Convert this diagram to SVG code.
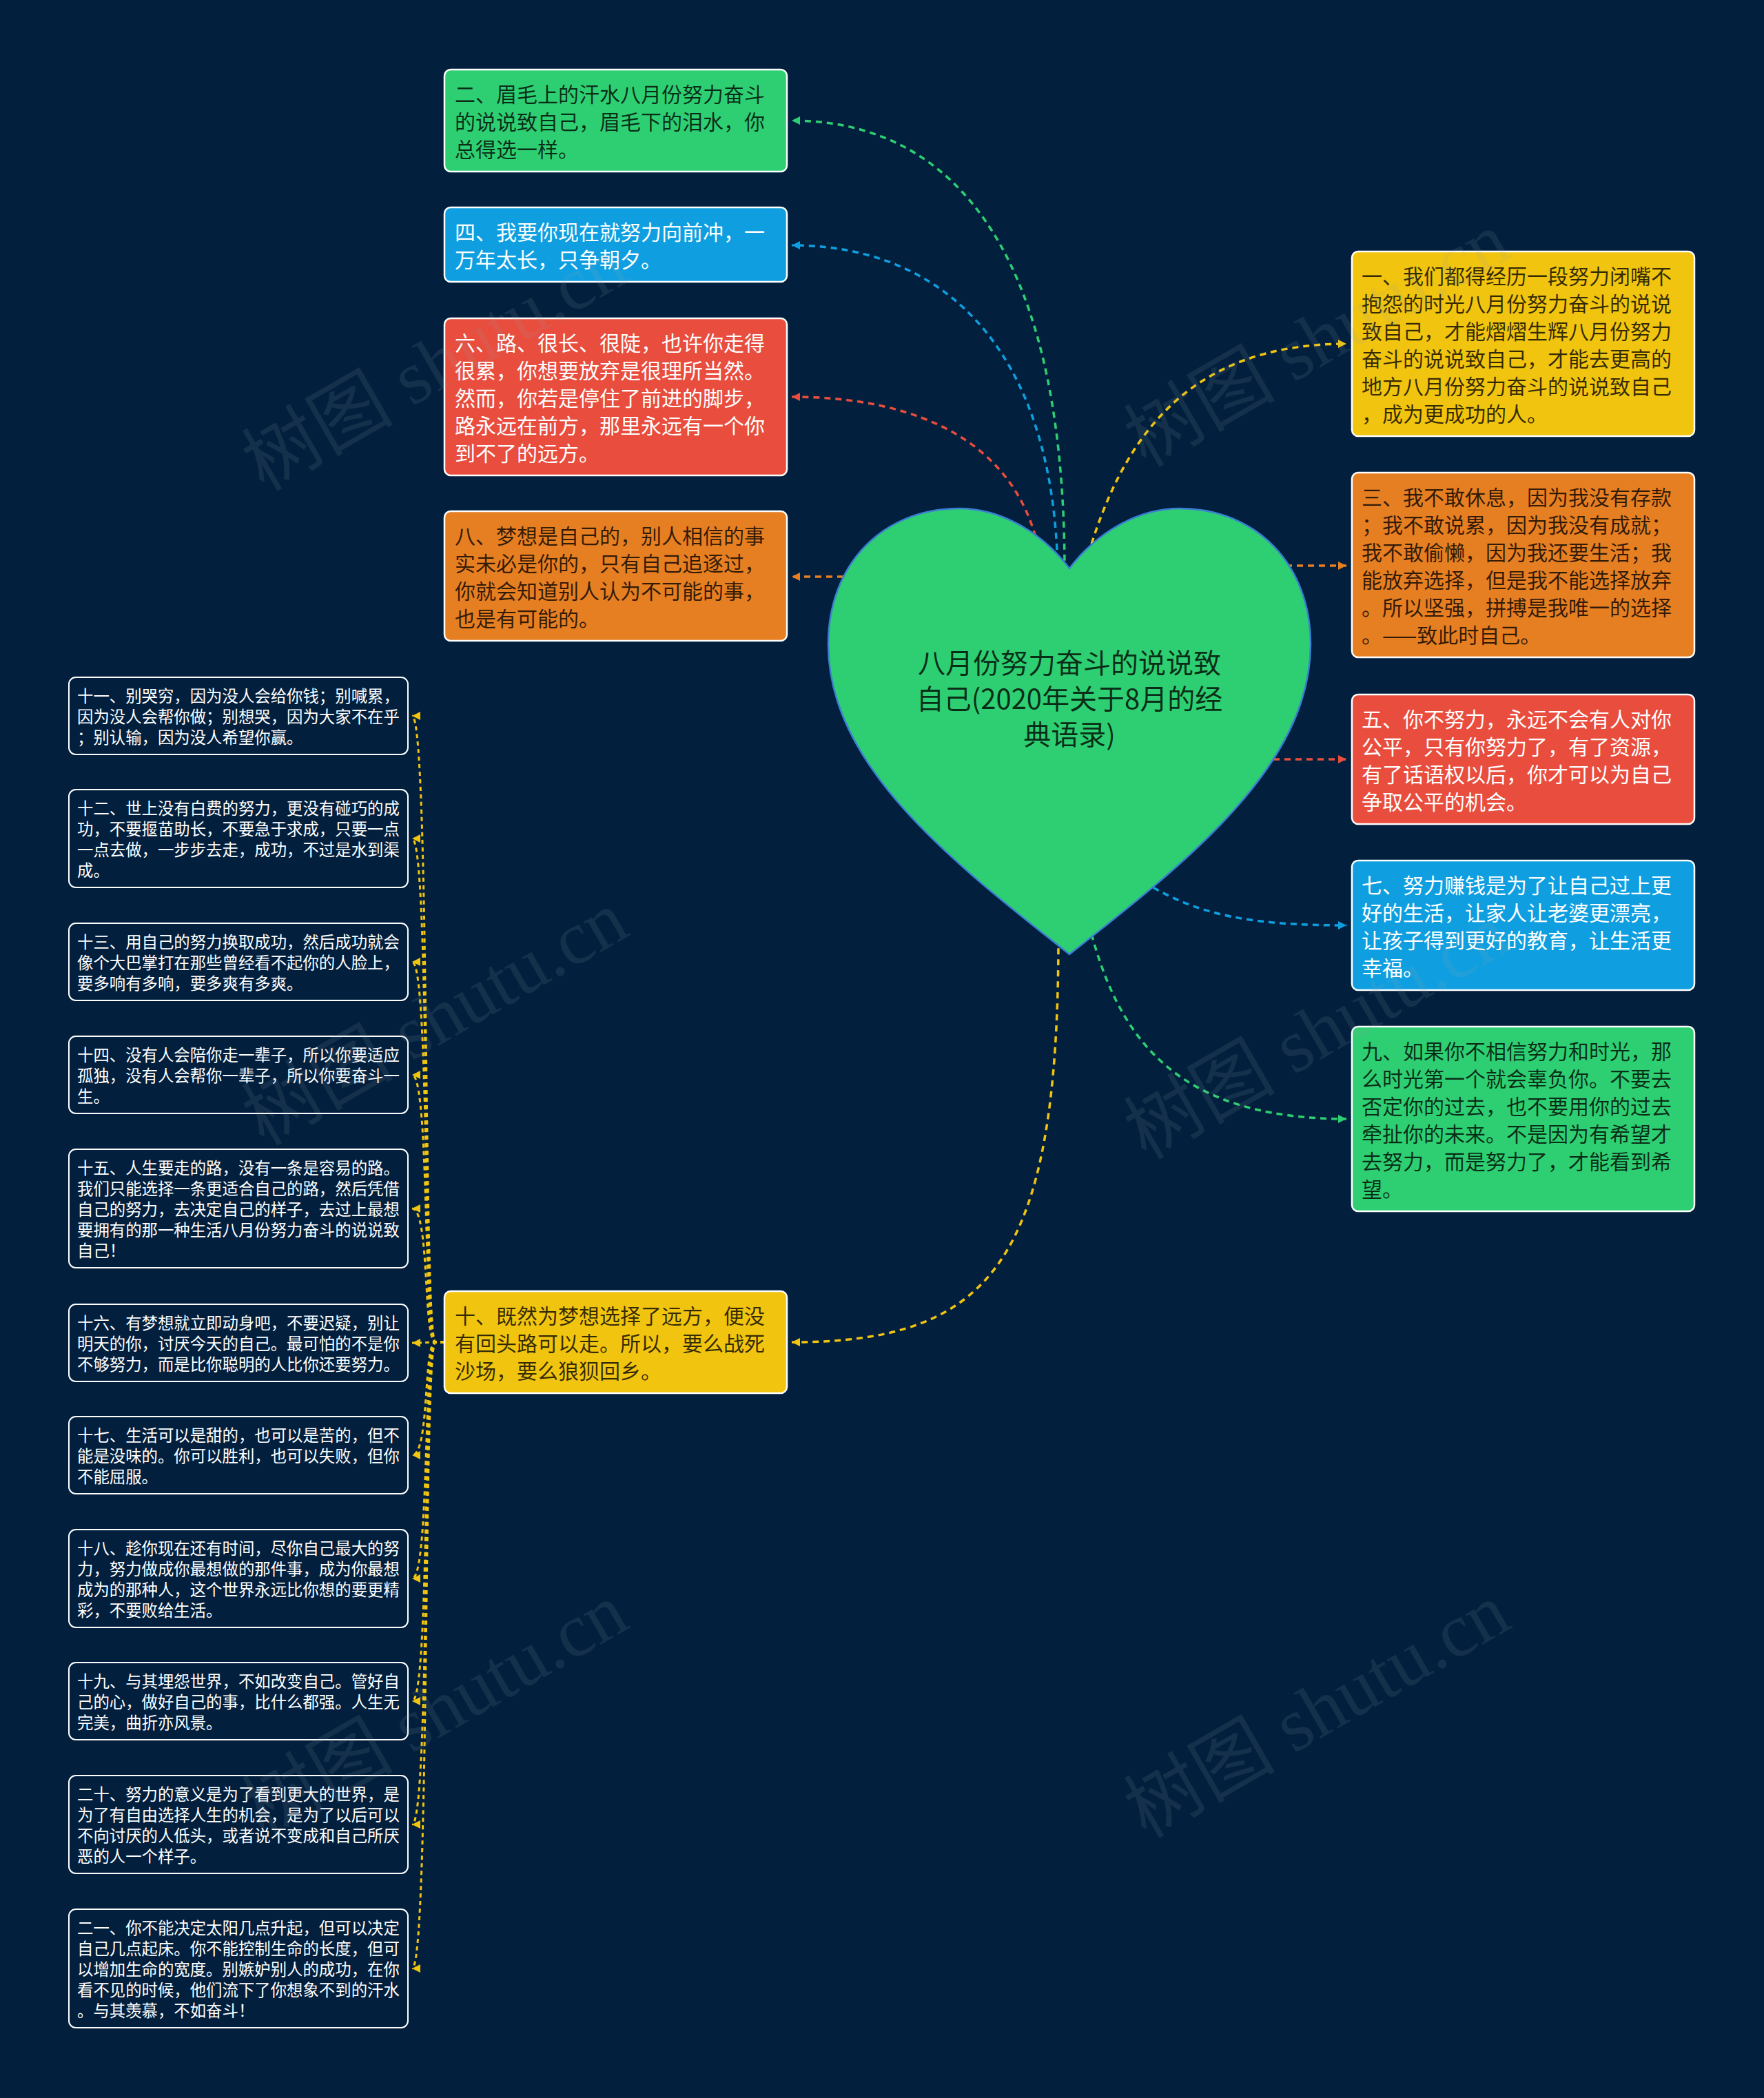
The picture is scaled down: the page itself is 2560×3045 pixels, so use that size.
<svg xmlns="http://www.w3.org/2000/svg" width="2560" height="3045" viewBox="0 0 2560 3045">
<style>
.bg{fill:#02203e}
.box{stroke:#ffffff;stroke-width:2.5}
.sbox{fill:#02203e;stroke:#ffffff;stroke-width:2}
.t{font-family:"Noto Sans CJK SC","Noto Sans",sans-serif;font-size:30px;dominant-baseline:central}
.st{font-family:"Noto Sans CJK SC","Noto Sans",sans-serif;font-size:23.4px;fill:#ffffff;dominant-baseline:central}
.dk{fill:#000000;fill-opacity:0.78}
.wt{fill:#ffffff}
.c{fill:none;stroke-width:3.5;stroke-dasharray:9 7}
.cs{fill:none;stroke:#f1c40f;stroke-width:3;stroke-dasharray:6 5}
.wm{font-family:"Liberation Serif","Noto Sans CJK SC",serif;font-size:110px;fill:#a0a8b0;fill-opacity:0.12}
</style>
<defs>
<marker id="aG" viewBox="0 0 12 12" refX="12" refY="6" markerWidth="13" markerHeight="12" markerUnits="userSpaceOnUse" orient="auto"><path d="M0,0 L12,6 L0,12 z" fill="#2ecf72"/></marker>
<marker id="aB" viewBox="0 0 12 12" refX="12" refY="6" markerWidth="13" markerHeight="12" markerUnits="userSpaceOnUse" orient="auto"><path d="M0,0 L12,6 L0,12 z" fill="#0f9fe0"/></marker>
<marker id="aR" viewBox="0 0 12 12" refX="12" refY="6" markerWidth="13" markerHeight="12" markerUnits="userSpaceOnUse" orient="auto"><path d="M0,0 L12,6 L0,12 z" fill="#e84d3d"/></marker>
<marker id="aO" viewBox="0 0 12 12" refX="12" refY="6" markerWidth="13" markerHeight="12" markerUnits="userSpaceOnUse" orient="auto"><path d="M0,0 L12,6 L0,12 z" fill="#e67e22"/></marker>
<marker id="aY" viewBox="0 0 12 12" refX="12" refY="6" markerWidth="13" markerHeight="12" markerUnits="userSpaceOnUse" orient="auto"><path d="M0,0 L12,6 L0,12 z" fill="#f1c40f"/></marker>
</defs>
<rect class="bg" x="0" y="0" width="2560" height="3045"/>

<g id="connectors">
<path class="c" stroke="#2ecf72" marker-end="url(#aG)" d="M1545,830 C1545,330 1360,175 1149,175"/>
<path class="c" stroke="#0f9fe0" marker-end="url(#aB)" d="M1535,830 C1530,520 1380,356 1149,356"/>
<path class="c" stroke="#e84d3d" marker-end="url(#aR)" d="M1510,810 C1480,640 1330,576 1149,576"/>
<path class="c" stroke="#e67e22" marker-end="url(#aO)" d="M1240,837 L1149,837"/>
<path class="c" stroke="#f1c40f" marker-end="url(#aY)" d="M1536,1360 C1536,1830 1440,1948 1149,1948"/>
<path class="c" stroke="#f1c40f" marker-end="url(#aY)" d="M1575,820 C1625,640 1720,499 1954,499"/>
<path class="c" stroke="#e67e22" marker-end="url(#aO)" d="M1850,821 L1954,821"/>
<path class="c" stroke="#e84d3d" marker-end="url(#aR)" d="M1800,1102 L1954,1102"/>
<path class="c" stroke="#0f9fe0" marker-end="url(#aB)" d="M1660,1280 C1740,1330 1820,1343 1954,1343"/>
<path class="c" stroke="#2ecf72" marker-end="url(#aG)" d="M1580,1340 C1620,1500 1700,1624 1954,1624"/>
<path class="cs" marker-end="url(#aY)" d="M645,1948 L632,1948 C614,1948 624,1039 598,1039"/>
<path class="cs" marker-end="url(#aY)" d="M645,1948 L632,1948 C614,1948 624,1217 598,1217"/>
<path class="cs" marker-end="url(#aY)" d="M645,1948 L632,1948 C614,1948 624,1396 598,1396"/>
<path class="cs" marker-end="url(#aY)" d="M645,1948 L632,1948 C614,1948 624,1560 598,1560"/>
<path class="cs" marker-end="url(#aY)" d="M645,1948 L632,1948 C614,1948 624,1754 598,1754"/>
<path class="cs" marker-end="url(#aY)" d="M645,1948 L632,1948 C614,1948 624,1949 598,1949"/>
<path class="cs" marker-end="url(#aY)" d="M645,1948 L632,1948 C614,1948 624,2112 598,2112"/>
<path class="cs" marker-end="url(#aY)" d="M645,1948 L632,1948 C614,1948 624,2291 598,2291"/>
<path class="cs" marker-end="url(#aY)" d="M645,1948 L632,1948 C614,1948 624,2469 598,2469"/>
<path class="cs" marker-end="url(#aY)" d="M645,1948 L632,1948 C614,1948 624,2648 598,2648"/>
<path class="cs" marker-end="url(#aY)" d="M645,1948 L632,1948 C614,1948 624,2857 598,2857"/>
</g>

<g id="root">
<path d="M1552,825 C1510,770 1450,738 1392,738 C1280,738 1202,820 1202,935 C1202,1110 1380,1250 1552,1385 C1724,1250 1902,1110 1902,935 C1902,820 1824,738 1712,738 C1654,738 1594,770 1552,825 Z" fill="#2ecf72" stroke="#3b7fd4" stroke-width="2.5"/>
<text class="t dk" style="font-size:40px" text-anchor="middle"><tspan x="1552" y="960">八月份努力奋斗的说说致</tspan><tspan x="1552" y="1012">自己(2020年关于8月的经</tspan><tspan x="1552" y="1064">典语录)</tspan></text>
</g>

<g id="n2">
<rect class="box" x="645" y="101" width="497" height="148" rx="9" fill="#2ecf72"/>
<text class="t dk"><tspan x="660" y="135">二、眉毛上的汗水八月份努力奋斗</tspan><tspan x="660" y="175">的说说致自己，眉毛下的泪水，你</tspan><tspan x="660" y="215">总得选一样。</tspan></text>
</g>
<g id="n4">
<rect class="box" x="645" y="301" width="497" height="108" rx="9" fill="#0f9fe0"/>
<text class="t wt"><tspan x="660" y="335">四、我要你现在就努力向前冲，一</tspan><tspan x="660" y="375">万年太长，只争朝夕。</tspan></text>
</g>
<g id="n6">
<rect class="box" x="645" y="462" width="497" height="228" rx="9" fill="#e84d3d"/>
<text class="t wt"><tspan x="660" y="496">六、路、很长、很陡，也许你走得</tspan><tspan x="660" y="536">很累，你想要放弃是很理所当然。</tspan><tspan x="660" y="576">然而，你若是停住了前进的脚步，</tspan><tspan x="660" y="616">路永远在前方，那里永远有一个你</tspan><tspan x="660" y="656">到不了的远方。</tspan></text>
</g>
<g id="n8">
<rect class="box" x="645" y="742" width="497" height="188" rx="9" fill="#e67e22"/>
<text class="t dk"><tspan x="660" y="776">八、梦想是自己的，别人相信的事</tspan><tspan x="660" y="816">实未必是你的，只有自己追逐过，</tspan><tspan x="660" y="856">你就会知道别人认为不可能的事，</tspan><tspan x="660" y="896">也是有可能的。</tspan></text>
</g>
<g id="n10">
<rect class="box" x="645" y="1874" width="497" height="148" rx="9" fill="#f1c40f"/>
<text class="t dk"><tspan x="660" y="1908">十、既然为梦想选择了远方，便没</tspan><tspan x="660" y="1948">有回头路可以走。所以，要么战死</tspan><tspan x="660" y="1988">沙场，要么狼狈回乡。</tspan></text>
</g>

<g id="n1">
<rect class="box" x="1962" y="365" width="497" height="268" rx="9" fill="#f1c40f"/>
<text class="t dk"><tspan x="1976" y="399">一、我们都得经历一段努力闭嘴不</tspan><tspan x="1976" y="439">抱怨的时光八月份努力奋斗的说说</tspan><tspan x="1976" y="479">致自己，才能熠熠生辉八月份努力</tspan><tspan x="1976" y="519">奋斗的说说致自己，才能去更高的</tspan><tspan x="1976" y="559">地方八月份努力奋斗的说说致自己</tspan><tspan x="1976" y="599">，成为更成功的人。</tspan></text>
</g>
<g id="n3">
<rect class="box" x="1962" y="686" width="497" height="268" rx="9" fill="#e67e22"/>
<text class="t dk"><tspan x="1976" y="720">三、我不敢休息，因为我没有存款</tspan><tspan x="1976" y="760">；我不敢说累，因为我没有成就；</tspan><tspan x="1976" y="800">我不敢偷懒，因为我还要生活；我</tspan><tspan x="1976" y="840">能放弃选择，但是我不能选择放弃</tspan><tspan x="1976" y="880">。所以坚强，拼搏是我唯一的选择</tspan><tspan x="1976" y="920">。——致此时自己。</tspan></text>
</g>
<g id="n5">
<rect class="box" x="1962" y="1008" width="497" height="188" rx="9" fill="#e84d3d"/>
<text class="t wt"><tspan x="1976" y="1042">五、你不努力，永远不会有人对你</tspan><tspan x="1976" y="1082">公平，只有你努力了，有了资源，</tspan><tspan x="1976" y="1122">有了话语权以后，你才可以为自己</tspan><tspan x="1976" y="1162">争取公平的机会。</tspan></text>
</g>
<g id="n7">
<rect class="box" x="1962" y="1249" width="497" height="188" rx="9" fill="#0f9fe0"/>
<text class="t wt"><tspan x="1976" y="1283">七、努力赚钱是为了让自己过上更</tspan><tspan x="1976" y="1323">好的生活，让家人让老婆更漂亮，</tspan><tspan x="1976" y="1363">让孩子得到更好的教育，让生活更</tspan><tspan x="1976" y="1403">幸福。</tspan></text>
</g>
<g id="n9">
<rect class="box" x="1962" y="1490" width="497" height="268" rx="9" fill="#2ecf72"/>
<text class="t dk"><tspan x="1976" y="1524">九、如果你不相信努力和时光，那</tspan><tspan x="1976" y="1564">么时光第一个就会辜负你。不要去</tspan><tspan x="1976" y="1604">否定你的过去，也不要用你的过去</tspan><tspan x="1976" y="1644">牵扯你的未来。不是因为有希望才</tspan><tspan x="1976" y="1684">去努力，而是努力了，才能看到希</tspan><tspan x="1976" y="1724">望。</tspan></text>
</g>

<g id="n11">
<rect class="sbox" x="100" y="983" width="492" height="112" rx="10"/>
<text class="st"><tspan x="112" y="1009">十一、别哭穷，因为没人会给你钱；别喊累，</tspan><tspan x="112" y="1039">因为没人会帮你做；别想哭，因为大家不在乎</tspan><tspan x="112" y="1069">；别认输，因为没人希望你赢。</tspan></text>
</g>
<g id="n12">
<rect class="sbox" x="100" y="1146" width="492" height="142" rx="10"/>
<text class="st"><tspan x="112" y="1172">十二、世上没有白费的努力，更没有碰巧的成</tspan><tspan x="112" y="1202">功，不要揠苗助长，不要急于求成，只要一点</tspan><tspan x="112" y="1232">一点去做，一步步去走，成功，不过是水到渠</tspan><tspan x="112" y="1262">成。</tspan></text>
</g>
<g id="n13">
<rect class="sbox" x="100" y="1340" width="492" height="112" rx="10"/>
<text class="st"><tspan x="112" y="1366">十三、用自己的努力换取成功，然后成功就会</tspan><tspan x="112" y="1396">像个大巴掌打在那些曾经看不起你的人脸上，</tspan><tspan x="112" y="1426">要多响有多响，要多爽有多爽。</tspan></text>
</g>
<g id="n14">
<rect class="sbox" x="100" y="1504" width="492" height="112" rx="10"/>
<text class="st"><tspan x="112" y="1530">十四、没有人会陪你走一辈子，所以你要适应</tspan><tspan x="112" y="1560">孤独，没有人会帮你一辈子，所以你要奋斗一</tspan><tspan x="112" y="1590">生。</tspan></text>
</g>
<g id="n15">
<rect class="sbox" x="100" y="1668" width="492" height="172" rx="10"/>
<text class="st"><tspan x="112" y="1694">十五、人生要走的路，没有一条是容易的路。</tspan><tspan x="112" y="1724">我们只能选择一条更适合自己的路，然后凭借</tspan><tspan x="112" y="1754">自己的努力，去决定自己的样子，去过上最想</tspan><tspan x="112" y="1784">要拥有的那一种生活八月份努力奋斗的说说致</tspan><tspan x="112" y="1814">自己！</tspan></text>
</g>
<g id="n16">
<rect class="sbox" x="100" y="1893" width="492" height="112" rx="10"/>
<text class="st"><tspan x="112" y="1919">十六、有梦想就立即动身吧，不要迟疑，别让</tspan><tspan x="112" y="1949">明天的你，讨厌今天的自己。最可怕的不是你</tspan><tspan x="112" y="1979">不够努力，而是比你聪明的人比你还要努力。</tspan></text>
</g>
<g id="n17">
<rect class="sbox" x="100" y="2056" width="492" height="112" rx="10"/>
<text class="st"><tspan x="112" y="2082">十七、生活可以是甜的，也可以是苦的，但不</tspan><tspan x="112" y="2112">能是没味的。你可以胜利，也可以失败，但你</tspan><tspan x="112" y="2142">不能屈服。</tspan></text>
</g>
<g id="n18">
<rect class="sbox" x="100" y="2220" width="492" height="142" rx="10"/>
<text class="st"><tspan x="112" y="2246">十八、趁你现在还有时间，尽你自己最大的努</tspan><tspan x="112" y="2276">力，努力做成你最想做的那件事，成为你最想</tspan><tspan x="112" y="2306">成为的那种人，这个世界永远比你想的要更精</tspan><tspan x="112" y="2336">彩，不要败给生活。</tspan></text>
</g>
<g id="n19">
<rect class="sbox" x="100" y="2413" width="492" height="112" rx="10"/>
<text class="st"><tspan x="112" y="2439">十九、与其埋怨世界，不如改变自己。管好自</tspan><tspan x="112" y="2469">己的心，做好自己的事，比什么都强。人生无</tspan><tspan x="112" y="2499">完美，曲折亦风景。</tspan></text>
</g>
<g id="n20">
<rect class="sbox" x="100" y="2577" width="492" height="142" rx="10"/>
<text class="st"><tspan x="112" y="2603">二十、努力的意义是为了看到更大的世界，是</tspan><tspan x="112" y="2633">为了有自由选择人生的机会，是为了以后可以</tspan><tspan x="112" y="2663">不向讨厌的人低头，或者说不变成和自己所厌</tspan><tspan x="112" y="2693">恶的人一个样子。</tspan></text>
</g>
<g id="n21">
<rect class="sbox" x="100" y="2771" width="492" height="172" rx="10"/>
<text class="st"><tspan x="112" y="2797">二一、你不能决定太阳几点升起，但可以决定</tspan><tspan x="112" y="2827">自己几点起床。你不能控制生命的长度，但可</tspan><tspan x="112" y="2857">以增加生命的宽度。别嫉妒别人的成功，在你</tspan><tspan x="112" y="2887">看不见的时候，他们流下了你想象不到的汗水</tspan><tspan x="112" y="2917">。与其羡慕，不如奋斗！</tspan></text>
</g>

<g id="watermarks">
<text class="wm" text-anchor="middle" transform="translate(650,560) rotate(-30)">树图 shutu.cn</text>
<text class="wm" text-anchor="middle" transform="translate(1930,525) rotate(-30)">树图 shutu.cn</text>
<text class="wm" text-anchor="middle" transform="translate(650,1510) rotate(-30)">树图 shutu.cn</text>
<text class="wm" text-anchor="middle" transform="translate(1930,1530) rotate(-30)">树图 shutu.cn</text>
<text class="wm" text-anchor="middle" transform="translate(650,2515) rotate(-30)">树图 shutu.cn</text>
<text class="wm" text-anchor="middle" transform="translate(1930,2515) rotate(-30)">树图 shutu.cn</text>
</g>
</svg>
